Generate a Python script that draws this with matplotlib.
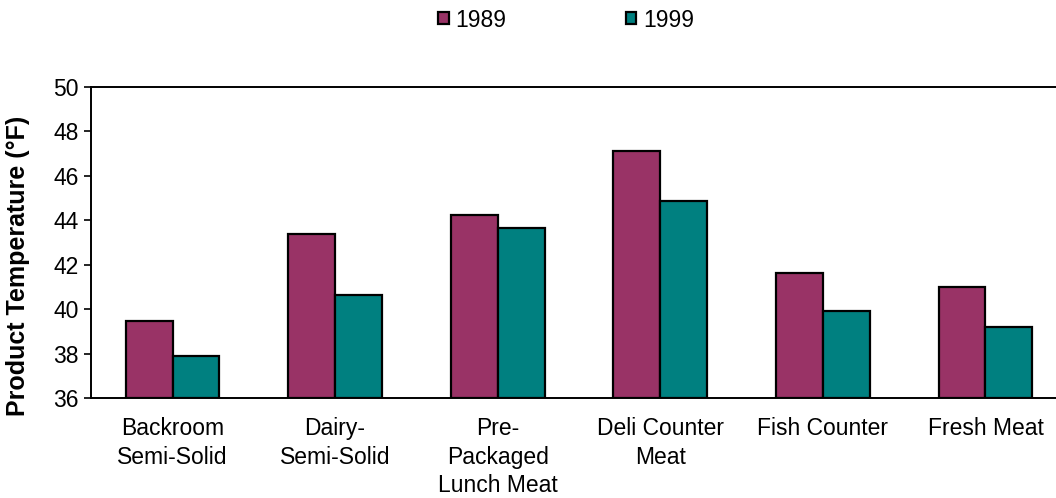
import matplotlib
matplotlib.use("Agg")
import matplotlib.pyplot as plt
import numpy as np
from matplotlib.patches import Patch

categories = ["Backroom\nSemi-Solid", "Dairy-\nSemi-Solid", "Pre-\nPackaged\nLunch Meat",
              "Deli Counter\nMeat", "Fish Counter", "Fresh Meat"]
series_names = ["1989", "1999"]
values_1989 = [39.45, 43.4, 44.25, 47.12, 41.62, 41.0]
values_1999 = [37.87, 40.65, 43.65, 44.85, 39.92, 39.2]
yticks = [36, 38, 40, 42, 44, 46, 48, 50]

plt.rcParams['font.family'] = ['Liberation Sans', 'DejaVu Sans']

fig = plt.figure(figsize=(10.56, 4.98), dpi=100)
W, H = 1056, 498
left, right, top, bottom = 91.2, 1066.8, 87, 398
ax = fig.add_axes([left / W, (H - bottom) / H, (right - left) / W, (bottom - top) / H])

x = np.arange(len(categories))
bw = 0.288
c1, c2 = "#993366", "#008080"
ax.bar(x - bw / 2, np.array(values_1989) - 36, bw, bottom=36, color=c1, edgecolor="black", linewidth=1.6, zorder=3)
ax.bar(x + bw / 2, np.array(values_1999) - 36, bw, bottom=36, color=c2, edgecolor="black", linewidth=1.6, zorder=3)

ax.set_xlim(-0.5, len(categories) - 0.5)
ax.set_ylim(36, 50)
ax.set_yticks(yticks)
ax.set_yticklabels([str(t) for t in yticks], fontsize=16.5)
ax.set_xticks(x)
ax.set_xticklabels(categories, fontsize=16.5, linespacing=1.32, va="top")
ax.tick_params(axis="x", length=0, pad=13.5)
ax.tick_params(axis="y", direction="out", length=5, width=1.2, pad=4)
for s in ax.spines.values():
    s.set_linewidth(1.4)
    s.set_color("black")

ax.set_ylabel("Product Temperature (°F)", fontsize=18, fontweight="bold", va="center")
ax.yaxis.set_label_coords((18 - left) / (right - left), (bottom - 266) / (bottom - top))

handles = [Patch(facecolor=c1, edgecolor="black", linewidth=1.6),
           Patch(facecolor=c2, edgecolor="black", linewidth=1.6)]
fig.legend(handles, series_names, loc="center", bbox_to_anchor=(566 / W, 1 - 20 / H), ncol=2,
           frameon=False, fontsize=16.5, handlelength=0.45, handleheight=0.45, handletextpad=0.3,
           columnspacing=5.2)

fig.savefig("out.png", dpi=100)
